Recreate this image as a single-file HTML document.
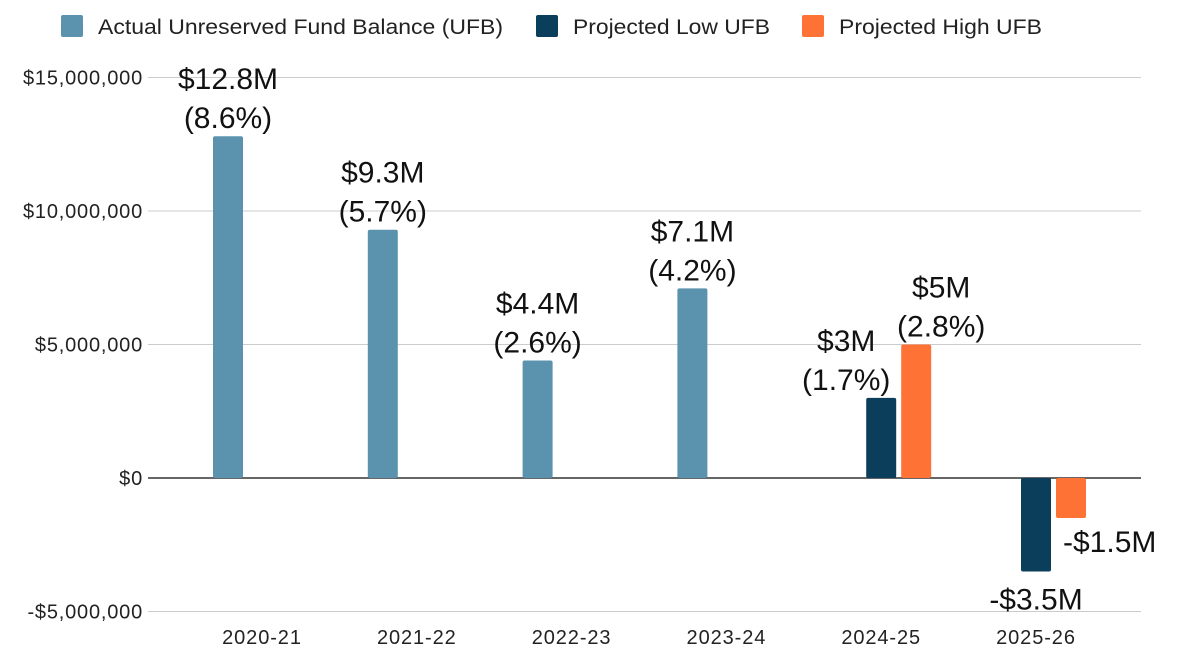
<!DOCTYPE html>
<html><head><meta charset="utf-8"><style>
body{margin:0;background:#fff;font-family:"Liberation Sans",Arial,sans-serif}
svg{display:block}
</style></head><body>
<svg id="chart" width="1180" height="672" font-family="Liberation Sans, Arial, sans-serif">
<g id="legend">
 <g><rect x="61" y="15" width="22" height="22" rx="2" fill="#5b93ae"/><text x="98" y="34" font-size="21" fill="#222" textLength="405" lengthAdjust="spacingAndGlyphs">Actual Unreserved Fund Balance (UFB)</text></g>
 <g><rect x="536" y="15" width="22" height="22" rx="2" fill="#0b3e5a"/><text x="573" y="34" font-size="21" fill="#222" textLength="197" lengthAdjust="spacingAndGlyphs">Projected Low UFB</text></g>
 <g><rect x="802" y="15" width="22" height="22" rx="2" fill="#ff7235"/><text x="839" y="34" font-size="21" fill="#222" textLength="203" lengthAdjust="spacingAndGlyphs">Projected High UFB</text></g>
</g>
<g id="grid"></g><g id="bars"></g><g id="labels"></g>
</svg>
<script>
const categories=["2020-21","2021-22","2022-23","2023-24","2024-25","2025-26"];
const actual=[12.8,9.3,4.4,7.1,null,null];
const low=[null,null,null,null,3,-3.5];
const high=[null,null,null,null,5,-1.5];
const actualLabels=["$12.8M|(8.6%)","$9.3M|(5.7%)","$4.4M|(2.6%)","$7.1M|(4.2%)","",""];
const lowLabels=["","","","","$3M|(1.7%)","-$3.5M"];
const highLabels=["","","","","$5M|(2.8%)","-$1.5M"];
const ticks=[15,10,5,0,-5];
const tickLabels=["$15,000,000","$10,000,000","$5,000,000","$0","-$5,000,000"];
const NS="http://www.w3.org/2000/svg";
const y=v=>478-v*26.7;
const x=i=>262+i*154.8;
function mk(tag,attrs,parent){const e=document.createElementNS(NS,tag);for(const k in attrs)e.setAttribute(k,attrs[k]);parent.appendChild(e);return e;}
const grid=document.getElementById('grid'),bars=document.getElementById('bars'),labels=document.getElementById('labels');
ticks.forEach((t,i)=>{
 const l=mk('line',{x1:148,x2:1141,y1:y(t),y2:y(t),stroke:t===0?'#333':'#ccc','stroke-width':t===0?1.5:1},grid);
 
 
 const tx=mk('text',{x:143,y:y(t)+7,'text-anchor':'end','font-size':20,'letter-spacing':0.8,fill:'#222'},grid);
 tx.textContent=tickLabels[i];
 
 
});
categories.forEach((c,i)=>{
 const tx=mk('text',{x:x(i),y:644,'text-anchor':'middle','font-size':20,'letter-spacing':0.9,fill:'#222'},grid);
 tx.textContent=c;
 
 
});
function series(vals,labs,off,color,name){
 vals.forEach((v,i)=>{
  if(v===null)return;
  const cx=x(i)+off;
  const top=Math.min(y(v),y(0)),h=Math.abs(y(v)-y(0));
  const r=mk('rect',{x:cx-15,y:top,width:30,height:h,fill:color,rx:2},bars);
  
  
  const parts=labs[i].split('|');
  if(!labs[i])return;
  let lx=cx,ly,anchor='middle';
  if(v>=0){ly=y(v)-8-(parts.length-1)*39;}
  else{
   if(name==='high'){lx=cx-8;anchor='start';ly=y(v)+34;}
   else{ly=y(v)+38;}
  }
  if(name==='low'&&v>=0){lx=cx-35;}
  if(name==='high'&&v>=0){lx=cx+25;}
  parts.forEach((p,k)=>{
   const t=mk('text',{x:lx,y:ly+k*39,'text-anchor':anchor,'font-size':30,fill:'#111'},labels);
   t.textContent=p;
   
   
  });
 });
}
series(actual,actualLabels,-34,'#5b93ae','actual');
series(low,lowLabels,0,'#0b3e5a','low');
series(high,highLabels,35,'#ff7235','high');
</script>
</body></html>
